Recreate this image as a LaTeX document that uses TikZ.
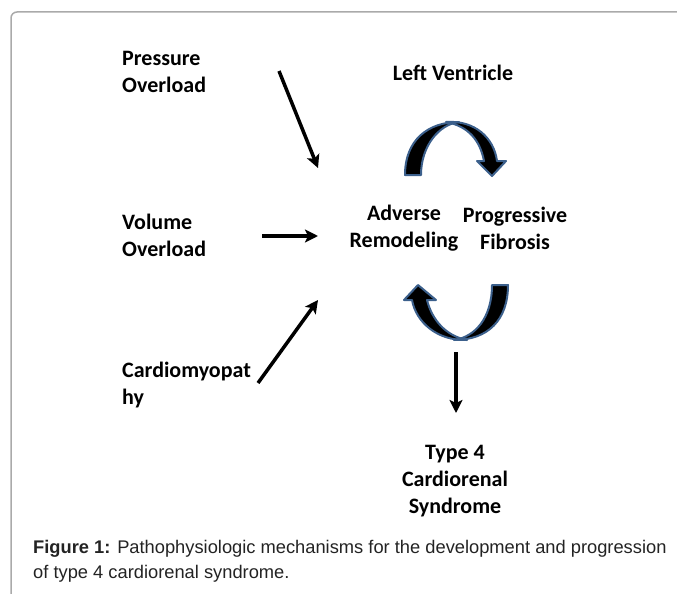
\documentclass[tikz,border=0pt]{standalone}
\usepackage{fontspec}
\setmainfont{Carlito}
\newfontfamily\capfont{Liberation Sans}
\usetikzlibrary{arrows.meta}
\definecolor{arrowblue}{RGB}{60,96,140}
\definecolor{framegray}{RGB}{170,170,170}
\definecolor{captext}{RGB}{35,35,35}
\begin{document}
\begin{tikzpicture}[x=1pt,y=-1pt,
  lbl/.style={font=\fontsize{22}{27}\selectfont\bfseries, inner sep=0pt, align=left},
  lblc/.style={lbl, align=center},
  flow/.style={line width=3.5pt, -{Stealth[length=13pt,width=13pt,inset=3pt]}},
  cycfill/.style={fill=black},
  cycline/.style={draw=arrowblue, line width=2pt, line join=round},
  captionbox/.style={font=\capfont\fontsize{18.3}{25}\selectfont, color=captext, inner sep=0pt, align=left, anchor=north west}
]
\useasboundingbox (0,0) rectangle (677,594);
\draw[framegray, line width=1.5pt, rounded corners=6pt] (11,594) -- (11,12) -- (677,12);

\node[lbl, anchor=west] (press) at (122,71.5) {Pressure\\Overload};
\node[lbl, anchor=west] (vol) at (122,235.5) {Volume\\Overload};
\node[lbl, anchor=west] (cardio) at (122,385) {Cardiomyopat\\hy};
\node[lbl] (lv) at (453,73) {Left Ventricle};
\node[lblc] (adv) at (404,228.5) {Adverse\\Remodeling};
\node[lblc] (fib) at (515,228.5) {Progressive\\Fibrosis};
\node[lblc] (type4) at (455,481.5) {Type 4\\Cardiorenal\\Syndrome};
\node[captionbox] (caption) at (33,540.5) {\textbf{Figure 1:} Pathophysiologic mechanisms for the development and progression\\of type 4 cardiorenal syndrome.};

\coordinate (p1) at (279,71);
\coordinate (p2) at (318,168);
\coordinate (v1) at (262,236);
\coordinate (v2) at (318,236);
\coordinate (c1) at (258,383);
\coordinate (c2) at (318,300);
\coordinate (d1) at (456,352);
\coordinate (d2) at (456,413);
\draw[flow] (p1) -- (p2);
\draw[flow] (v1) -- (v2);
\draw[flow] (c1) -- (c2);
\draw[flow] (d1) -- (d2);

% top circular arrow
\def\topleft{(405,175) .. controls (405,140) and (428,122) .. (459,122)
   .. controls (440,124) and (421,145) .. (421,175) -- cycle}
\def\topright{(446,122) .. controls (475,120) and (494,138) .. (497,161)
   -- (506,161) -- (492,176) -- (477,161) -- (484,161)
   .. controls (480,140) and (468,126) .. (446,122) -- cycle}
\path[cycfill] \topright;
\path[cycfill] \topleft;
\path[cycline] \topright;
\path[cycline] \topleft;

% bottom circular arrow
\def\botright{(508,285) .. controls (508,320) and (488,340) .. (454,340)
   .. controls (475,337) and (492,318) .. (492,285) -- cycle}
\def\botleft{(467,340) .. controls (437,341) and (416,322) .. (412,300)
   -- (404,300) -- (418,285) -- (436,300) -- (427,300)
   .. controls (432,320) and (446,336) .. (467,340) -- cycle}
\path[cycfill] \botright;
\path[cycfill] \botleft;
\path[cycline] \botright;
\path[cycline] \botleft;
\end{tikzpicture}
\end{document}
